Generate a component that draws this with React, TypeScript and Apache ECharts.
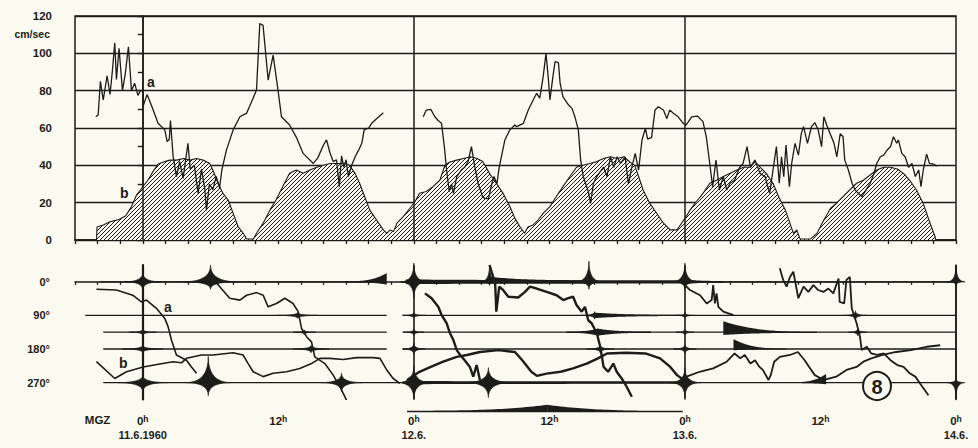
import React, { useEffect, useRef } from 'react';
import * as echarts from 'echarts';

// ---------- top panel: current speed (cm/sec) against hours from 0h 11.6.1960 ----------
const speedA1: [number, number][] = [
  [-4.16, 66], [-3.95, 67], [-3.75, 85], [-3.5, 75], [-3.16, 88], [-2.9, 78], [-2.7, 90], [-2.48, 105.7],
  [-2.33, 86], [-2.1, 102.7], [-1.8, 80], [-1.55, 89], [-1.27, 103.5], [-1.0, 80], [-0.72, 84], [-0.43, 77.5],
  [-0.2, 80], [0, 80], [0.05, 72], [0.38, 78], [0.77, 72], [1.36, 62.5], [1.95, 59], [2.16, 52.7], [2.35, 54],
  [2.45, 64], [2.69, 44.6], [2.98, 34], [3.27, 42], [3.57, 33], [4.0, 51.8], [4.2, 38], [4.57, 40], [4.9, 25],
  [5.2, 38], [5.5, 27], [5.64, 16], [5.9, 30], [6.2, 27], [6.5, 34], [6.8, 28], [7.0, 37.5], [7.4, 48], [8.0, 59],
  [8.6, 66], [9.2, 68], [9.7, 75], [10.07, 80.3], [10.36, 116], [10.65, 115], [11.1, 85.7], [11.54, 99],
  [11.98, 80], [12.28, 66], [13.0, 61.6], [13.6, 55], [14.2, 46.4], [14.6, 44], [15.1, 41], [15.5, 44],
  [16.0, 50.9], [16.27, 53.6], [16.56, 47], [16.86, 42], [17.15, 43], [17.4, 28.6], [17.6, 45], [17.8, 39],
  [18.0, 43], [18.2, 34], [18.5, 40], [18.8, 44.6], [19.1, 48], [19.4, 52], [19.6, 59], [20.0, 60],
  [20.26, 62.5], [20.7, 65], [21.3, 68.2],
];
const speedA2: [number, number][] = [
  [24.83, 66], [25.1, 69.6], [25.5, 70], [25.86, 66], [26.15, 64], [26.45, 62.5], [26.7, 50], [26.9, 37.5],
  [27.13, 26], [27.35, 30], [27.5, 25], [27.8, 34], [28.2, 37.5], [28.5, 39], [28.8, 42], [29.1, 50], [29.4, 39],
  [29.7, 30], [30.1, 23], [30.3, 22.3], [30.6, 22], [30.9, 30], [31.1, 34], [31.35, 30], [31.56, 39], [31.8, 46],
  [32.06, 53.6], [32.5, 59], [32.95, 61.6], [33.1, 60.7], [33.7, 62.5], [34.13, 69.6], [34.57, 75], [34.87, 78.6],
  [35.15, 76], [35.45, 87.5], [35.7, 100], [35.9, 87], [36.05, 75], [36.3, 87], [36.5, 95.5], [36.8, 95],
  [36.95, 84], [37.2, 76.8], [37.7, 72.3], [38.0, 70.5], [38.26, 66], [38.56, 59], [38.77, 42.8], [39.0, 34],
  [39.2, 30.4], [39.44, 26], [39.65, 19.6], [39.9, 30.4], [40.2, 34], [40.5, 36.6], [40.8, 39], [41.1, 34],
  [41.4, 44.6], [41.7, 39], [42.0, 44.6], [42.3, 41], [42.7, 44.6], [43.0, 30], [43.3, 39], [43.6, 46.4],
  [43.9, 37.5], [44.2, 53.6], [44.5, 59.8], [44.7, 54], [45.05, 55], [45.35, 69.6], [45.65, 71.4], [46.1, 69.6],
  [46.4, 65], [46.65, 69.6], [47.0, 67.8], [47.4, 66], [47.85, 62.5], [48.1, 61.6], [48.6, 66], [49.1, 66.4],
  [49.6, 63.4], [49.9, 55], [50.2, 41], [50.45, 28.6], [50.75, 42.8], [51.05, 26.8], [51.4, 34], [51.7, 26.8],
  [52.0, 30.4], [52.4, 32], [52.85, 39], [53.15, 41], [53.5, 50], [53.8, 39], [54.2, 42.8], [54.65, 35.7],
  [55.1, 33.9], [55.5, 25], [55.8, 37.5], [56.1, 50], [56.35, 30.4], [56.55, 44.6], [56.75, 33.9], [56.95, 50.9],
  [57.25, 28.6], [57.45, 41], [57.75, 51.8], [58.05, 45.5], [58.3, 57], [58.5, 60.7], [58.85, 51.8], [59.2, 60.7],
  [59.5, 62.9], [59.8, 58.9], [60.1, 50], [60.3, 66], [60.55, 61.6], [60.85, 57], [61.2, 51.8], [61.45, 44.6],
  [61.75, 57], [62.0, 55.3], [62.15, 42.8], [62.47, 37.5], [62.8, 30.4], [63.07, 26.8], [63.36, 25], [63.66, 23.2],
  [63.95, 25.9], [64.4, 30.4], [64.75, 35.7], [64.98, 41], [65.3, 44.6], [65.6, 45.5], [65.9, 48.2], [66.2, 50],
  [66.46, 55.3], [66.75, 51.8], [66.9, 53.6], [67.2, 46.4], [67.5, 44.6], [67.8, 39], [68.1, 41], [68.4, 34],
  [68.7, 37.5], [68.9, 28.6], [69.1, 37.5], [69.4, 46], [69.65, 41], [70.0, 40.7], [70.3, 39.6],
];
const speedB: [number, number][] = [
  [-4.1, 0], [-4.05, 7], [-3.5, 8], [-2.9, 9.8], [-2.4, 10.5], [-2.1, 11], [-1.5, 13], [-1.0, 17.9], [-0.56, 24],
  [-0.2, 26.8], [0, 28.6], [0.45, 32], [0.9, 36.6], [1.36, 40.7], [1.95, 42], [2.4, 42.8], [3.0, 42.8], [3.6, 43.7],
  [4.2, 42.8], [4.75, 43.7], [5.35, 42.8], [5.93, 41], [6.2, 37.5], [6.67, 30.4], [7.1, 25], [7.56, 21.4], [8.0, 14.3],
  [8.45, 7], [8.9, 3.6], [9.2, 0.5], [9.8, 0.5], [10.07, 3.6], [10.65, 8.9], [11.25, 16], [11.8, 21.4], [12.4, 28.6],
  [13.0, 35.7], [13.6, 37.5], [14.2, 35.7], [14.8, 37.5], [15.4, 39], [16.0, 40], [16.6, 41], [17.2, 41], [17.8, 41],
  [18.3, 40], [18.8, 35.7], [19.2, 30.4], [19.65, 23.2], [20.1, 16], [20.7, 10.7], [21.3, 5.4], [21.6, 3.6],
  [21.9, 5.4], [22.2, 4.5], [22.5, 9], [23.06, 12.5], [23.65, 17], [24.1, 20.5], [24.5, 25], [25.1, 26],
  [25.7, 28.6], [26.3, 32], [26.75, 40], [27.2, 41.8], [27.8, 42.8], [28.4, 43.7], [29.0, 44.6], [29.6, 43.7],
  [30.1, 42], [30.7, 35.7], [31.3, 30.4], [31.9, 25], [32.5, 17.9], [32.95, 11.6], [33.4, 7], [33.8, 3.6], [34.1, 7],
  [34.55, 8], [35.0, 10.7], [35.45, 14.3], [36.05, 17.9], [36.6, 23.2], [37.2, 28.6], [37.8, 33.9], [38.4, 39],
  [39.0, 40], [39.6, 41], [40.2, 42], [40.8, 43.7], [41.4, 44.6], [42.0, 43.7], [42.6, 44.6], [43.1, 42], [43.55, 40],
  [43.9, 34], [44.3, 26.8], [44.9, 19.6], [45.5, 14.3], [46.1, 9], [46.7, 5.4], [47.3, 5.4], [47.7, 9], [48.1, 12.5],
  [48.45, 16], [49.0, 20.5], [49.6, 25], [50.2, 30.4], [50.8, 32], [51.4, 34], [52.0, 35.7], [52.6, 37.5], [53.2, 39],
  [53.8, 39], [54.2, 42], [54.65, 39], [55.2, 35.7], [55.8, 30.4], [56.3, 23.2], [56.9, 16], [57.3, 8.9], [57.6, 3.6],
  [57.9, 5.4], [58.2, 0.5], [59.1, 0.5], [59.7, 3.6], [60.3, 10.7], [60.9, 17], [61.4, 19.6], [62.0, 23.2],
  [62.6, 26.8], [63.2, 30.4], [63.8, 32], [64.4, 34.8], [64.98, 37.5], [65.6, 39], [66.2, 39], [66.8, 38],
  [67.35, 35.7], [67.9, 32], [68.5, 26.8], [69.1, 19.6], [69.6, 10.7], [70.15, 1.8], [70.2, 0],
];

// ---------- bottom panel: current direction (degrees) ----------
const dirA1: [number, number][] = [
  [-4.1, 20], [-2.33, 22], [-0.89, 36], [-0.12, 54], [0.33, 49], [1.21, 71], [1.95, 98], [2.24, 120], [2.54, 156],
  [2.98, 196], [3.87, 210], [4.31, 228], [4.76, 245],
];
const dirA2: [number, number][] = [
  [6.0, 0], [6.53, 3], [7.7, 44], [8.6, 49], [9.19, 36], [10.07, 29], [10.66, 36], [11.1, 67], [11.84, 58],
  [12.58, 44], [13.3, 58], [13.76, 80], [14.06, 125], [14.5, 147], [14.94, 161], [15.23, 201], [16.12, 219],
  [16.86, 250], [17.45, 281], [18.04, 317],
];
const dirA3: [number, number][] = [
  [24.98, 31], [25.57, 44], [26.16, 67], [26.46, 89], [26.9, 111], [27.2, 138], [27.5, 156], [27.8, 183],
  [28.1, 196], [28.5, 210], [28.96, 228], [29.26, 254], [29.56, 223], [29.85, 263],
];
const dirA4: [number, number][] = [
  [30.7, -45], [31.2, 4], [31.3, 80], [31.56, 13], [31.9, 22], [32.36, 40], [33.24, 42], [33.84, 27], [34.28, 13],
  [34.87, 18], [35.76, 27], [36.64, 36], [37.23, 49], [37.67, 44], [38.1, 40], [38.4, 62], [38.86, 80], [39.15, 67],
  [39.44, 103], [39.74, 111], [40.2, 138], [40.5, 174], [40.8, 228], [41.2, 241], [41.66, 219], [41.96, 241],
  [42.4, 259], [42.84, 281], [43.3, 308],
];
const dirA5: [number, number][] = [
  [47.86, 4], [48.45, 22], [49.34, 36], [49.93, 58], [50.37, 49], [50.5, 9], [50.66, 58], [50.8, 31], [50.96, 67],
  [51.4, 80], [52.3, 89],
];
const dirA6: [number, number][] = [
  [56.4, -36], [56.7, -5], [57.0, 13], [57.3, -13], [57.6, -27], [58.04, 44], [58.5, 13], [58.93, 27], [59.37, 9],
  [59.8, 22], [60.26, 27], [60.7, 18], [61.14, 31], [61.6, -9], [61.7, 54], [62.1, 58], [62.3, -5], [62.6, -13],
  [62.77, 71], [63.2, 111], [63.5, 147], [63.65, 183], [64.1, 174], [64.5, 192], [65.0, 196], [65.6, 192],
  [66.2, 210], [66.8, 223], [67.36, 228], [67.9, 245], [68.4, 254], [68.8, 272], [69.56, 304],
];
const dirB1: [number, number][] = [
  [-4.1, 214], [-2.48, 259], [-1.44, 241], [0.03, 228], [1.5, 220], [2.68, 214], [3.43, 217], [3.87, 205],
  [5.2, 196], [6.23, 196], [8.0, 190], [8.88, 196], [9.33, 219], [9.77, 241], [10.66, 254], [11.54, 245],
  [12.73, 241], [13.9, 232], [14.94, 219], [15.68, 205], [16.56, 205], [17.74, 208], [18.93, 203], [20.4, 203],
  [21.0, 205], [21.6, 236], [22.17, 259], [22.76, 272],
];
const dirB2: [number, number][] = [
  [23.4, 263], [24.5, 241], [25.5, 228], [26.6, 214], [27.8, 201], [28.7, 196], [29.85, 188], [31.5, 183],
  [32.95, 188], [33.6, 210], [34.4, 241], [34.9, 252], [35.75, 246], [37.0, 241], [38.1, 232], [39.3, 219],
  [40.3, 205], [41.1, 192], [42.8, 190], [44.5, 192], [45.8, 205], [46.7, 228], [47.3, 250], [47.9, 263],
];
const dirB3: [number, number][] = [
  [48.15, 254], [49.3, 241], [50.5, 232], [51.7, 214], [52.4, 192], [52.9, 205], [53.3, 196], [53.8, 219],
  [54.2, 210], [54.6, 228], [54.9, 236], [55.4, 263], [55.6, 250], [55.9, 214], [56.4, 201], [57.3, 196],
  [58.0, 188], [58.6, 210], [59.0, 228], [59.5, 250], [60.3, 263], [61.4, 254], [62.3, 236], [63.2, 228],
  [63.8, 214], [64.5, 205], [65.5, 196], [66.7, 188], [68.0, 183], [69.4, 174], [70.6, 170],
];

// reference direction lines: [fromHour, toHour, degrees]
const refLines: number[][] = [
  [-3.8, 21.6, 0], [-5.1, 21.6, 90], [-3.5, 21.6, 135], [-3.5, 21.6, 180], [-3.5, 22.8, 270],
  [23.0, 47.8, 0], [23.0, 47.8, 90], [23.0, 47.8, 135], [23.0, 47.8, 180], [23.0, 47.8, 270],
  [48.1, 72, 0], [48.1, 72, 90], [48.1, 72, 135], [48.1, 72, 180], [48.1, 72, 270],
];
// spindle crossings: [hour, degrees, half length (h), up (deg), down (deg)]
const spindles: number[][] = [
  [0, 0, 1.6, 25, 22], [6.0, 0, 2.4, 45, 20], [0, 135, 1.2, 8, 8], [0, 180, 1.8, 10, 10], [0, 270, 2.2, 20, 25],
  [13.7, 90, 1.8, 8, 8], [14.3, 135, 1.0, 6, 6], [14.9, 180, 1.6, 10, 10], [5.8, 270, 2.0, 70, 35],
  [17.6, 270, 1.8, 25, 25],
  [24, 0, 1.2, 50, 45], [24, 90, 1.0, 8, 8], [24, 135, 0.9, 8, 8], [24, 180, 1.0, 15, 15], [24, 270, 1.5, 45, 45],
  [30.7, 0, 0.8, 45, 10], [39.5, 0, 1.2, 55, 20], [40.0, 90, 1.2, 10, 10], [40.3, 135, 1.4, 10, 10],
  [40.5, 180, 1.2, 10, 10], [30.6, 270, 2.0, 40, 40],
  [48, 0, 1.2, 50, 20], [48, 90, 0.8, 8, 8], [48, 135, 0.8, 8, 8], [48, 180, 1.0, 12, 12], [48, 270, 1.4, 40, 40],
  [63.1, 90, 1.0, 12, 12], [63.3, 135, 0.8, 10, 10], [72, 0, 0.8, 45, 10], [72, 270, 0.8, 10, 40],
];
// tapered bands: [fromHour, toHour, degrees, up0, down0, up1, down1]
const bands: number[][] = [
  [17.9, 21.6, 0, 0, 0, 22, 6],
  [23.3, 47.6, 0, 5, 5, 3, 3], [30.7, 39.4, 0, 12, 3, 3, 3], [40.0, 47.6, 90, 6, 6, 0.5, 0.5],
  [37.5, 40.3, 135, 0.5, 0.5, 8, 8], [40.3, 45, 135, 8, 8, 0.5, 0.5], [23.3, 47.6, 270, 3, 3, 2, 2],
  [23.4, 35.8, 348, 1.5, 0, 17, 0], [35.8, 47.8, 348, 17, 0, 1, 0],
  [48, 51.4, 0, 5, 5, 1, 1], [51.4, 59.7, 135, 28, 6, 0, 0.5], [52.3, 57, 180, 25, 2, 0, 0],
  [57.5, 60.5, 270, 0, 0, 22, 3],
];

const dayHours = [0, 24, 48];
const labelHours = [-4, 0, 12, 24, 36, 48, 60, 72];
const labelMain = ['MGZ', '0', '12', '0', '12', '0', '12', '0'];
const labelSup = ['', 'h', 'h', 'h', 'h', 'h', 'h', 'h'];
const labelDate = ['', '11.6.1960', '', '12.6.', '', '13.6.', '', '14.6.'];
const dirLabels: Record<number, string> = { 0: '0°', 90: '90°', 180: '180°', 270: '270°' };

const INK = '#1c1c18';
const BG = '#fbfaf0';
const FONT = 'Liberation Sans';

function hatch() {
  const s = 4;
  const c = document.createElement('canvas');
  c.width = s; c.height = s;
  const g = c.getContext('2d')!;
  g.fillStyle = BG; g.fillRect(0, 0, s, s);
  g.strokeStyle = INK; g.lineWidth = 1;
  g.beginPath();
  g.moveTo(-1, s + 1); g.lineTo(s + 1, -1);
  g.moveTo(-1, 1); g.lineTo(1, -1);
  g.moveTo(s - 1, s + 1); g.lineTo(s + 1, s - 1);
  g.stroke();
  return { image: c.toDataURL(), imageWidth: s, imageHeight: s, repeat: 'repeat' };
}

function starItem(_p: any, api: any) {
  const h = api.value(0), d = api.value(1), hw = api.value(2), up = api.value(3), dn = api.value(4);
  const c = api.coord([h, d]);
  const rx = api.coord([h + hw, d])[0] - c[0];
  const ru = Math.abs(c[1] - api.coord([h, d - up])[1]);
  const rd = Math.abs(api.coord([h, d + dn])[1] - c[1]);
  const pts: number[][] = [];
  const N = 96;
  const k = 4;
  for (let i = 0; i < N; i++) {
    const t = (i / N) * Math.PI * 2;
    const cx = Math.cos(t), sy = Math.sin(t);
    const ry = sy > 0 ? rd : ru;
    pts.push([c[0] + rx * Math.sign(cx) * Math.abs(cx) ** k, c[1] + ry * Math.sign(sy) * Math.abs(sy) ** k]);
  }
  return { type: 'polygon', shape: { points: pts }, style: { fill: INK, stroke: INK, lineWidth: 0.8 } };
}

function bandItem(_p: any, api: any) {
  const h1 = api.value(0), h2 = api.value(1), d = api.value(2);
  const u1 = api.value(3), d1 = api.value(4), u2 = api.value(5), d2 = api.value(6);
  const ppd = Math.abs(api.coord([h1, d + 1])[1] - api.coord([h1, d])[1]);
  const taper = (a: number, b: number, t: number) => (a >= b ? b + (a - b) * (1 - t) ** 3 : a + (b - a) * t ** 3);
  const top: number[][] = [], bot: number[][] = [];
  const N = 40;
  for (let i = 0; i <= N; i++) {
    const t = i / N;
    const p = api.coord([h1 + (h2 - h1) * t, d]);
    top.push([p[0], p[1] - taper(u1, u2, t) * ppd - 0.5]);
    bot.push([p[0], p[1] + taper(d1, d2, t) * ppd + 0.5]);
  }
  return { type: 'polygon', shape: { points: top.concat(bot.reverse()) }, style: { fill: INK } };
}

function refItem(_p: any, api: any) {
  const a = api.coord([api.value(0), api.value(2)]);
  const b = api.coord([api.value(1), api.value(2)]);
  return { type: 'line', shape: { x1: a[0], y1: a[1], x2: b[0], y2: b[1] }, style: { stroke: INK, lineWidth: 1.3 } };
}

function lineSeries(data: [number, number][], grid: number, width: number) {
  return {
    type: 'line', data, xAxisIndex: grid, yAxisIndex: grid === 0 ? 0 : 1, symbol: 'none',
    lineStyle: { color: INK, width }, z: 5, silent: true,
  };
}

export default function App() {
  const ref = useRef<HTMLDivElement>(null);
  useEffect(() => {
    const chart = echarts.init(ref.current!, null, { renderer: 'svg' });
    const tickLabel = (v: number) => {
      const i = labelHours.indexOf(v);
      if (i < 0) return '';
      let s = `{n|${labelMain[i]}}`;
      if (labelSup[i]) s += `{s|${labelSup[i]}}`;
      s += `\n{d|${labelDate[i] || ' '}}`;
      return s;
    };
    const txt = { color: INK, fontFamily: FONT, fontWeight: 'bold' as const };
    chart.setOption({
      animation: false,
      backgroundColor: BG,
      grid: [
        { left: 75, right: 22, top: 16, height: 224, show: true, borderColor: INK, borderWidth: 1.5, outerBoundsMode: 'none' },
        { left: 75, right: 22, top: 265, height: 134.4, show: false, outerBoundsMode: 'none' },
      ],
      xAxis: [
        {
          gridIndex: 0, type: 'value', min: -6, max: 72, interval: 2,
          axisLine: { show: true, lineStyle: { color: INK, width: 1.5 } },
          axisTick: { show: true, length: 4, lineStyle: { color: INK, width: 1.3 } },
          axisLabel: { show: false }, splitLine: { show: false },
        },
        {
          gridIndex: 1, type: 'value', min: -6, max: 72, interval: 2, offset: 12,
          axisLine: { show: true, lineStyle: { color: INK, width: 1.5 } },
          axisTick: { show: true, length: 3, lineStyle: { color: INK, width: 1.3 } },
          axisLabel: {
            show: true, margin: 3, showMinLabel: true, showMaxLabel: true, formatter: tickLabel,
            rich: {
              n: { ...txt, fontSize: 11.5 },
              s: { ...txt, fontSize: 8.5, verticalAlign: 'top', padding: [0, 0, 5, 0] },
              d: { ...txt, fontSize: 11, lineHeight: 13 },
            },
          },
          splitLine: { show: false },
        },
      ],
      yAxis: [
        {
          gridIndex: 0, type: 'value', min: 0, max: 120, interval: 20, offset: 17,
          axisLine: { show: true, lineStyle: { color: INK, width: 1.5 } },
          axisTick: { show: true, length: 5, lineStyle: { color: INK, width: 1.4 } },
          minorTick: { show: true, splitNumber: 2, length: 5, lineStyle: { color: INK, width: 1.4 } },
          axisLabel: { ...txt, fontSize: 11.5, margin: 6 },
          splitLine: { show: true, lineStyle: { color: INK, width: 1.3 } },
        },
        {
          gridIndex: 1, type: 'value', min: -45, max: 315, interval: 45, inverse: true, offset: 17,
          axisLine: { show: true, lineStyle: { color: INK, width: 2.2 } },
          axisTick: { show: false },
          axisLabel: { ...txt, fontSize: 11, margin: 8, formatter: (v: number) => dirLabels[v] ?? '' },
          splitLine: { show: false },
        },
        {
          gridIndex: 1, type: 'value', min: -45, max: 315, interval: 45, inverse: true, offset: 0,
          axisLine: { show: true, lineStyle: { color: INK, width: 1.5 } },
          axisTick: { show: false }, axisLabel: { show: false }, splitLine: { show: false },
        },
      ],
      series: [
        {
          type: 'line', data: speedB, xAxisIndex: 0, yAxisIndex: 0, symbol: 'none', silent: true, z: 3,
          lineStyle: { color: INK, width: 1.1 },
          areaStyle: { color: hatch(), opacity: 1 },
          markLine: {
            silent: true, symbol: 'none', label: { show: false },
            lineStyle: { color: INK, width: 1.5, type: 'solid' },
            data: dayHours.map((h) => ({ xAxis: h })),
          },
        },
        lineSeries(speedA1, 0, 1.3),
        lineSeries(speedA2, 0, 1.3),
        {
          type: 'custom', xAxisIndex: 1, yAxisIndex: 1, data: refLines, renderItem: refItem, silent: true, z: 2,
          encode: { x: [0, 1], y: 2 },
          markLine: {
            silent: true, symbol: 'none', label: { show: false },
            lineStyle: { color: INK, width: 1.6, type: 'solid' },
            data: [...dayHours, 72].map((h) => ({ xAxis: h })),
          },
        },
        { type: 'custom', xAxisIndex: 1, yAxisIndex: 1, data: bands, renderItem: bandItem, silent: true, z: 3, encode: { x: [0, 1], y: 2 } },
        { type: 'custom', xAxisIndex: 1, yAxisIndex: 1, data: spindles, renderItem: starItem, silent: true, z: 4, encode: { x: 0, y: 1 } },
        lineSeries(dirA1, 1, 1.6), lineSeries(dirA2, 1, 1.6), lineSeries(dirA3, 1, 2.4), lineSeries(dirA4, 1, 2.4),
        lineSeries(dirA5, 1, 1.8), lineSeries(dirA6, 1, 1.8),
        lineSeries(dirB1, 1, 1.6), lineSeries(dirB2, 1, 2.4), lineSeries(dirB3, 1, 1.8),
      ],
      graphic: [
        { type: 'text', x: 50, y: 34, style: { text: 'cm/sec', align: 'right', verticalAlign: 'middle', font: `bold 10.5px "${FONT}"`, fill: INK } },
        { type: 'text', x: 147, y: 82, style: { text: 'a', verticalAlign: 'middle', font: `bold 14px "${FONT}"`, fill: INK } },
        { type: 'text', x: 120, y: 193, style: { text: 'b', verticalAlign: 'middle', font: `bold 14px "${FONT}"`, fill: INK } },
        { type: 'text', x: 164, y: 307, style: { text: 'a', verticalAlign: 'middle', font: `bold 14px "${FONT}"`, fill: INK } },
        { type: 'text', x: 119, y: 363, style: { text: 'b', verticalAlign: 'middle', font: `bold 14px "${FONT}"`, fill: INK } },
        { type: 'circle', shape: { cx: 877, cy: 386, r: 14 }, style: { fill: BG, stroke: INK, lineWidth: 2 }, z: 100 },
        { type: 'text', x: 877, y: 387, style: { text: '8', align: 'center', verticalAlign: 'middle', font: `bold 20px "${FONT}"`, fill: INK }, z: 101 },
      ],
    });
    return () => chart.dispose();
  }, []);
  return <div ref={ref} style={{ position: 'absolute', left: 0, top: 0, width: 978, height: 448 }} />;
}
